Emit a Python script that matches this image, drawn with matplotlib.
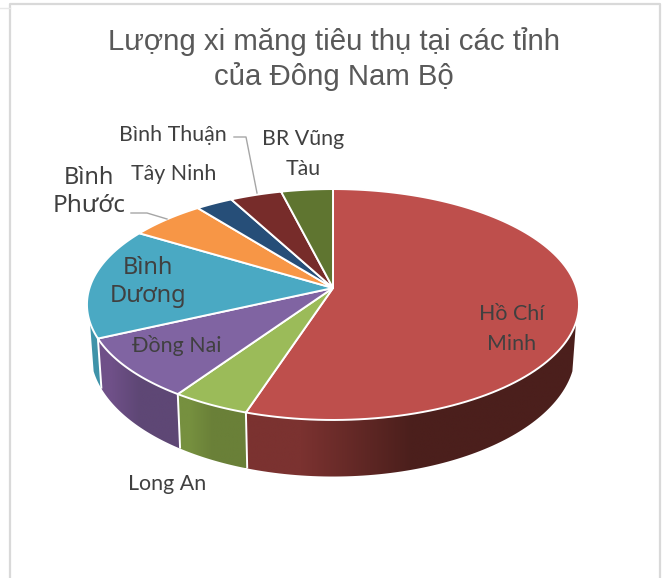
import numpy as np
import matplotlib
matplotlib.use("Agg")
import matplotlib.pyplot as plt
from matplotlib.colors import to_rgb
from matplotlib.patches import Polygon

# share of each province, clockwise from 12 o'clock
provinces = ["Hồ Chí Minh", "Long An", "Đồng Nai", "Bình Dương", "Bình Phước", "Tây Ninh", "Bình Thuận", "BR Vũng Tàu"]
shares = [55.0, 4.5, 8.6, 15.6, 5.7, 2.8, 3.9, 3.9]
top_colors = ["#BE4F4C", "#9BBB59", "#8064A2", "#4AA9C3", "#F79646", "#264E78", "#772C2A", "#5F7530"]
wall_left = ["#7B3230", "#76903F", "#6F5088", "#3F93A9", "#B87035", "#1C3A59", "#59211F", "#475724"]
wall_right = ["#4B1F1C", "#6A8038", "#5E4775", "#3F93A9", "#B87035", "#1C3A59", "#59211F", "#475724"]

# pie geometry in pixels, with a little perspective
cx, cy = 333, 288
a, b, k = 243.5, 113.1, 0.143
wall_from, wall_to = 107, 253


def rim(theta):
    t = np.radians(theta)
    u, v = np.sin(t), np.cos(t)
    w = 1 + k * v
    return cx + a * u / w, cy - b * v / w


def floor(theta):
    x, y = rim(theta)
    return cx + (x - cx) * 0.985, cy + (y - cy) * 1.08 + 46


fig = plt.figure(figsize=(6.62, 5.78), dpi=100)
ax = fig.add_axes([0, 0, 1, 1])

edges = np.concatenate([[0], np.cumsum(shares)]) / sum(shares) * 360

# side walls first, the top covers what it needs to
for i in range(len(shares)):
    lo, hi = max(edges[i], wall_from), min(edges[i + 1], wall_to)
    if lo >= hi:
        continue
    th = np.linspace(lo, hi, 80)
    xr, yr = rim(th)
    xf, yf = floor(th)
    xs = np.concatenate([xr, xf[::-1]])
    ys = np.concatenate([yr, yf[::-1]])
    grad = np.array([[to_rgb(wall_left[i]), to_rgb(wall_right[i]), to_rgb(wall_right[i])]])
    im = ax.imshow(grad, extent=[xs.min(), xs.max(), ys.max(), ys.min()], aspect="auto",
                   interpolation="bilinear", zorder=1)
    clip = Polygon(np.column_stack([xs, ys]), closed=True, transform=ax.transData, fc="none", ec="none")
    ax.add_patch(clip)
    im.set_clip_path(clip)

# white separators on the walls
for e in edges[1:]:
    if wall_from < e < wall_to:
        x0, y0 = rim(e)
        x1, y1 = floor(e)
        ax.plot([x0, x1], [y0, y1], color="white", lw=1.4, zorder=2, solid_capstyle="butt")

# top of the pie
for i in range(len(shares)):
    th = np.linspace(edges[i], edges[i + 1], 120)
    xr, yr = rim(th)
    ax.fill(np.r_[cx, xr], np.r_[cy, yr], color=top_colors[i], ec="white", lw=1.4, zorder=3, joinstyle="round")

# chart frame
frame = "#D9D9D9"
ax.plot([10, 10, 660, 660], [578, 4, 4, 578], color=frame, lw=1.6, zorder=0)
ax.plot([0, 10], [8, 8], color="#E8E8E8", lw=1, zorder=0)

# title
title_font = ["Liberation Sans", "DejaVu Sans"]
ax.text(334, 42, "Lượng xi măng tiêu thụ tại các tỉnh", ha="center", va="center", fontsize=21.2,
        color="#595959", family=title_font)
ax.text(334, 77, "của Đông Nam Bộ", ha="center", va="center", fontsize=21.2, color="#595959", family=title_font)

# data labels
small = ["Lato", "Noto Sans", "DejaVu Sans"]
big = ["Noto Sans", "DejaVu Sans"]
dark = "#404040"
labels = [
    ("Hồ Chí", 512, 314, 15.4, small), ("Minh", 512, 344, 15.4, small),
    ("Long An", 167, 484, 15.4, small),
    ("Đồng Nai", 177, 346, 15.4, small),
    ("Bình", 147.5, 268, 17, big), ("Dương", 148, 296, 17, big),
    ("Bình", 88.5, 178, 17, big), ("Phước", 89, 206, 17.5, big),
    ("Tây Ninh", 174, 174, 15.4, small),
    ("Bình Thuận", 173, 135, 15.4, small),
    ("BR Vũng", 303, 139, 15.4, small), ("Tàu", 303, 169, 15.4, small),
]
for txt, x, y, size, font in labels:
    ax.text(x, y, txt, ha="center", va="center", fontsize=size, color=dark, family=font, zorder=5)

# leader lines
leader = "#A6A6A6"
ax.plot([131, 147, 167], [213, 213, 219], color=leader, lw=1, zorder=4)
ax.plot([234, 246, 257], [137, 137, 193], color=leader, lw=1, zorder=4)

ax.set_xlim(0, 662)
ax.set_ylim(578, 0)
ax.axis("off")
fig.savefig("out.png", dpi=100, facecolor="white")
